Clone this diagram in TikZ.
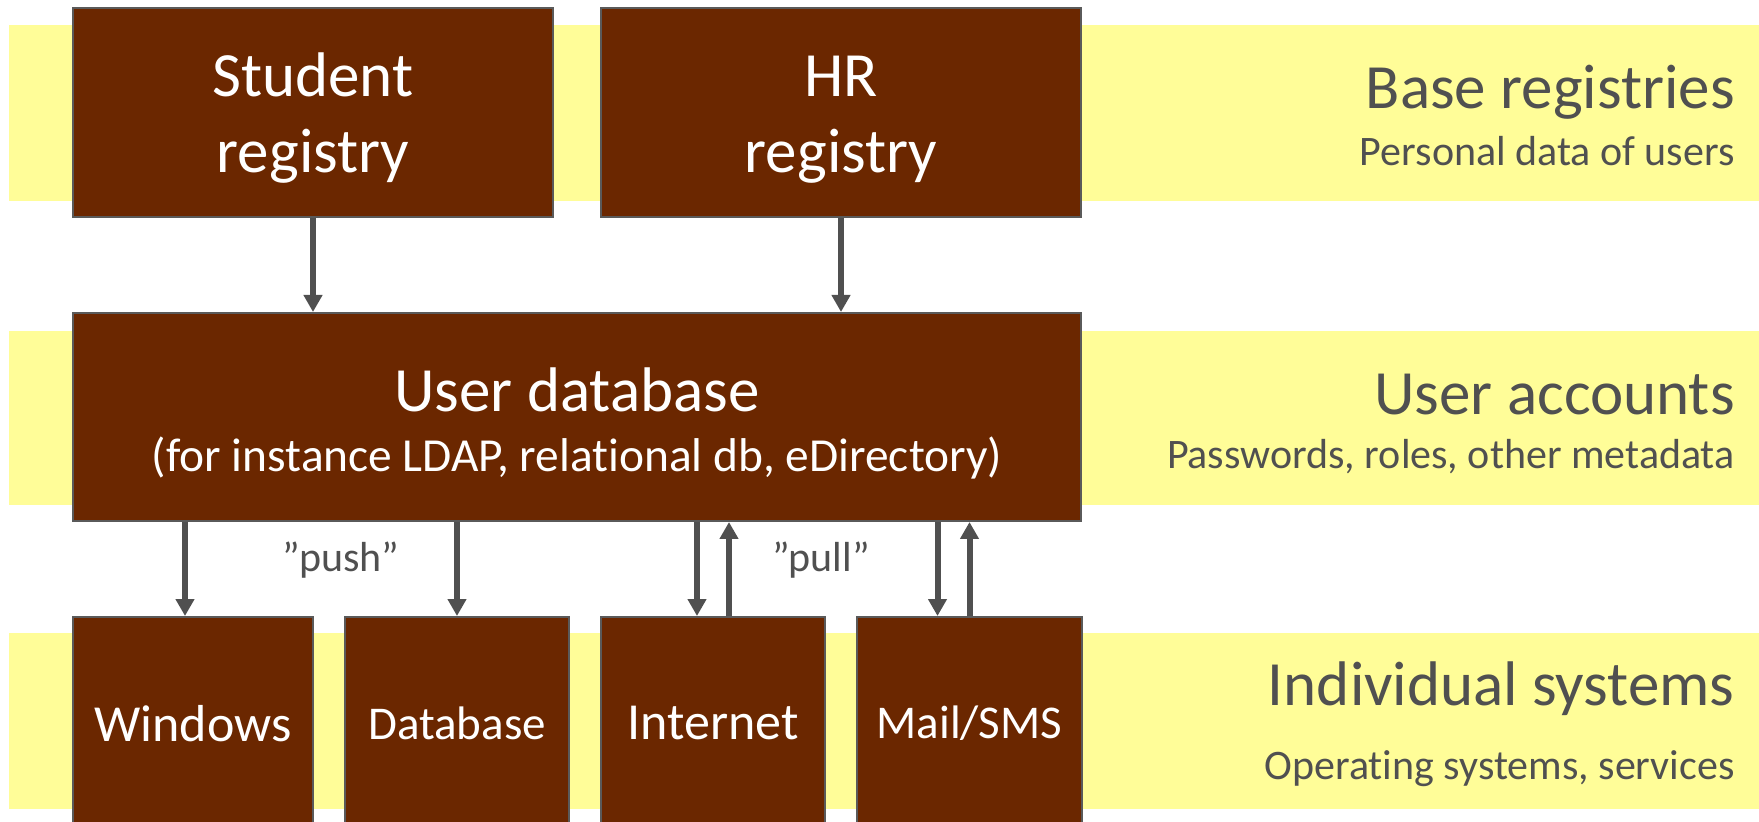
\documentclass[tikz,border=0pt]{standalone}
\usepackage{fontspec}
\setmainfont{Carlito}[Ligatures=NoCommon]
\usepackage{tikz}
\usetikzlibrary{arrows.meta}

\definecolor{boxbrown}{HTML}{6B2700}
\definecolor{boxline}{HTML}{5A5A5A}
\definecolor{bandyellow}{HTML}{FFFD98}
\definecolor{labgray}{HTML}{505050}

\newcommand{\boxfont}{\fontsize{31.5pt}{38pt}\selectfont}
\newcommand{\udbfont}{\fontsize{31.5pt}{30pt}\selectfont}
\newcommand{\parenfont}{\fontsize{23.7pt}{30pt}\selectfont}
\newcommand{\sysfont}{\fontsize{26pt}{30pt}\selectfont}
\newcommand{\syssmallfont}{\fontsize{23.5pt}{28pt}\selectfont}
\newcommand{\notefont}{\fontsize{21pt}{25pt}\selectfont}

\tikzset{
  regbox/.style={draw=boxline, line width=1pt, fill=boxbrown, text=white,
    align=center, inner sep=0pt},
  conn/.style={draw=labgray, line width=3pt, -{Triangle[length=8.5pt,width=9pt]}},
  layername/.style={text=labgray, anchor=base east, inner sep=0pt},
}

\begin{document}
\begin{tikzpicture}[x=0.5pt,y=-0.5pt]
\useasboundingbox (0,0) rectangle (1759,822);
% yellow bands
\fill[bandyellow] (9,25) rectangle (1759,201);
\fill[bandyellow] (9,331) rectangle (1759,505);
\fill[bandyellow] (9,633) rectangle (1759,809);
% registries
\node[regbox, font=\boxfont, text height=65pt, minimum width=240pt, minimum height=104.5pt] (stud) at (313,112.5) {Student\\registry};
\node[regbox, font=\boxfont, text height=65pt, minimum width=240pt, minimum height=104.5pt] (hr) at (841,112.5) {HR\\registry};
% user database
\node[regbox, font=\udbfont, text height=58pt, minimum width=504pt, minimum height=104pt] (udb) at (577,417)
  {User database\\{\parenfont (for instance LDAP, relational db, eDirectory)}};
% individual systems
\node[regbox, font=\sysfont, minimum width=120pt, minimum height=106.5pt] (win) at (193,723.5) {Windows};
\node[regbox, font=\syssmallfont, minimum width=112pt, minimum height=106.5pt] (db) at (457,723.5) {Database};
\node[regbox, font=\sysfont, minimum width=112pt, minimum height=106.5pt] (inet) at (713,723.5) {Internet};
\node[regbox, font=\syssmallfont, minimum width=112.5pt, minimum height=106.5pt] (mail) at (969.5,723.5) {Mail/SMS};
% connectors
\draw[conn] (stud.south) -- (stud.south |- udb.north);
\draw[conn] (hr.south) -- (hr.south |- udb.north);
\coordinate (wintop) at ([xshift=-4pt]win.north);
\draw[conn] (udb.south -| wintop) -- (wintop);
\draw[conn] (udb.south -| db.north) -- (db.north);
\coordinate (inetdn) at ([xshift=-8pt]inet.north);
\coordinate (inetup) at ([xshift=8pt]inet.north);
\draw[conn] (udb.south -| inetdn) -- (inetdn);
\draw[conn] (inetup) -- (udb.south -| inetup);
\coordinate (maildn) at ([xshift=-16pt]mail.north);
\draw[conn] (udb.south -| maildn) -- (maildn);
\draw[conn] (mail.north) -- (udb.south -| mail.north);
\node[text=labgray, font=\notefont, anchor=base, inner sep=0pt] (push) at (341,572) {”push”};
\node[text=labgray, font=\notefont, anchor=base, inner sep=0pt] (pull) at (821,572) {”pull”};
% layer names
\node[layername, font=\boxfont] (basereg) at (1735,109) {Base registries};
\node[layername, font=\notefont] (basesub) at (1735,166) {Personal data of users};
\node[layername, font=\boxfont] (useracc) at (1735,415) {User accounts};
\node[layername, font=\notefont] (usersub) at (1735,469) {Passwords, roles, other metadata};
\node[layername, font=\boxfont] (indsys) at (1735,705) {Individual systems};
\node[layername, font=\notefont] (indsub) at (1735,779) {Operating systems, services};
\end{tikzpicture}
\end{document}
